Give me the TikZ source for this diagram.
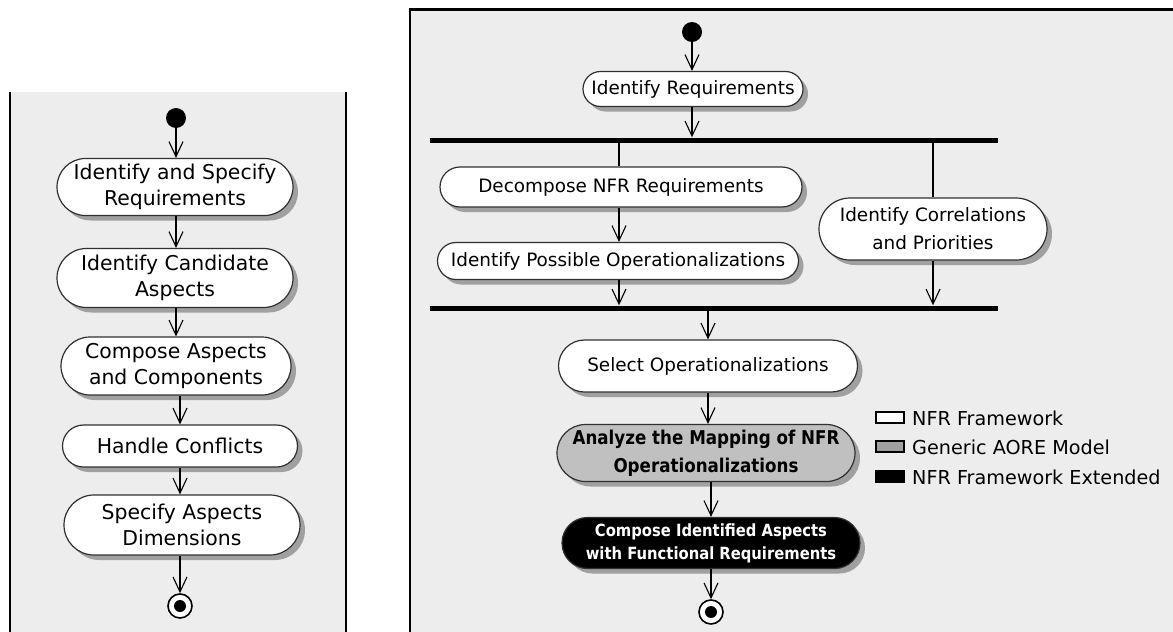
\documentclass[tikz,border=0pt]{standalone}
\usepackage{fontspec}
\setmainfont{DejaVu Sans}
\newfontfamily\boldnarrow[FakeStretch=0.88]{DejaVu Sans}
\usetikzlibrary{arrows.meta,shapes.misc,shadows}
\definecolor{panelgray}{HTML}{EDEDED}
\definecolor{midgray}{HTML}{C0C0C0}
\definecolor{legendgray}{HTML}{A0A0A0}
\definecolor{shadowgray}{HTML}{A0A0A0}
\definecolor{edgegray}{HTML}{303030}
\begin{document}
\begin{tikzpicture}[x=1pt,y=-1pt,
  act/.style={rounded rectangle, draw=edgegray, line width=1.2pt, fill=white,
    inner sep=0pt, align=center,
    drop shadow={shadow xshift=5pt, shadow yshift=-5pt, fill=shadowgray, opacity=1}},
  lft/.style={act, font=\fontsize{20.4}{26}\selectfont},
  rgt/.style={act, font=\fontsize{18.4}{28}\selectfont},
  startdot/.style={circle, fill=black, minimum size=20pt, inner sep=0pt},
  endring/.style={circle, draw=black, line width=1.6pt, fill=white, minimum size=24pt, inner sep=0pt},
  enddot/.style={circle, fill=black, minimum size=12pt, inner sep=0pt},
  arr/.style={draw=black, line width=1.1pt, -{Straight Barb[length=15pt,width=14pt,line width=1.1pt]}},
  plainline/.style={draw=black, line width=1.1pt},
  bar/.style={fill=black, minimum width=568pt, minimum height=5pt, inner sep=0pt},
  legbox/.style={draw=black, line width=2pt, minimum width=28pt, minimum height=11pt, inner sep=0pt},
  legtext/.style={anchor=west, inner sep=0pt, font=\fontsize{19.2}{22}\selectfont},
]
\useasboundingbox (0,0) rectangle (1173,632);
\fill[white] (0,0) rectangle (1173,632);
% panels
\fill[panelgray] (10,92) rectangle (346,632);
\draw[line width=2pt] (10,92) -- (10,632);
\draw[line width=2pt] (346,92) -- (346,632);
\fill[panelgray] (410,9) rectangle (1173,632);
\draw[line width=3pt] (409,9) -- (1173,9);
\draw[line width=2pt] (410,9) -- (410,632);

% ---------- left diagram ----------
\node[startdot] (ls) at (176,118) {};
\node[lft, minimum width=236pt, minimum height=57pt] (l1) at (175,187) {Identify and Specify\\Requirements};
\node[lft, minimum width=236pt, minimum height=59pt] (l2) at (175,278) {Identify Candidate\\Aspects};
\node[lft, minimum width=230pt, minimum height=58pt] (l3) at (176,366) {Compose Aspects\\and Components};
\node[lft, minimum width=235pt, minimum height=42pt] (l4) at (180,446) {Handle Conflicts};
\node[lft, minimum width=236pt, minimum height=60pt] (l5) at (182,525) {Specify Aspects\\Dimensions};
\node[endring] (le) at (180,606) {};
\node[enddot] (led) at (le) {};

\draw[arr] (ls.south) -- (ls.south |- l1.north);
\draw[arr] (l1.south -| ls) -- (ls |- l2.north);
\draw[arr] (l2.south -| ls) -- (ls |- l3.north);
\draw[arr] (l3.south -| le) -- (le |- l4.north);
\draw[arr] (l4.south -| le) -- (le |- l5.north);
\draw[arr] (l5.south -| le) -- (le.north);

% ---------- right diagram ----------
\node[startdot] (rs) at (692,32) {};
\node[rgt, minimum width=220pt, minimum height=35pt] (ir) at (693,89) {Identify Requirements};
\node[bar] (bar1) at (714,140) {};
\node[rgt, minimum width=362pt, minimum height=40pt] (dec) at (621,187) {Decompose NFR Requirements};
\node[rgt, minimum width=361pt, minimum height=37pt] (ipo) at (618,261) {Identify Possible Operationalizations};
\node[rgt, minimum width=228pt, minimum height=62pt] (cor) at (933,229) {Identify Correlations\\and Priorities};
\node[bar] (bar2) at (714,308) {};
\node[rgt, minimum width=299pt, minimum height=52pt] (sel) at (708,366) {Select Operationalizations};
\node[act, fill=midgray, minimum width=298pt, minimum height=57pt,
      font=\boldnarrow\bfseries\fontsize{19}{28}\selectfont] (ana) at (706,453)
      {Analyze the Mapping of NFR\\Operationalizations};
\node[act, fill=black, text=white, minimum width=298pt, minimum height=51pt,
      font=\boldnarrow\bfseries\fontsize{16.8}{23}\selectfont] (cmp) at (711,543)
      {Compose Identified Aspects\\with Functional Requirements};
\node[endring] (re) at (711,612) {};
\node[enddot] (red) at (re) {};

\draw[arr] (rs.south) -- (rs.south |- ir.north);
\draw[arr] (ir.south -| rs) -- (rs |- bar1.north);
\draw[plainline] (619,140 |- bar1.south) -- (619,140 |- dec.north);
\draw[plainline] (cor.north |- bar1.south) -- (cor.north);
\draw[arr] (619,140 |- dec.south) -- (619,140 |- ipo.north);
\draw[arr] (619,140 |- ipo.south) -- (619,140 |- bar2.north);
\draw[arr] (cor.south) -- (cor.south |- bar2.north);
\draw[arr] (sel.north |- bar2.south) -- (sel.north);
\draw[arr] (sel.south) -- (sel.south |- ana.north);
\draw[arr] (ana.south -| cmp) -- (cmp.north);
\draw[arr] (cmp.south) -- (re.north);

% ---------- legend ----------
\node[legbox, fill=white] (lg1) at (890,417) {};
\node[legbox, fill=legendgray] (lg2) at (890,446) {};
\node[legbox, fill=black] (lg3) at (890,476) {};
\node[legtext] (lt1) at (912,418) {NFR Framework};
\node[legtext] (lt2) at (912,447) {Generic AORE Model};
\node[legtext] (lt3) at (912,477) {NFR Framework Extended};
\end{tikzpicture}
\end{document}
